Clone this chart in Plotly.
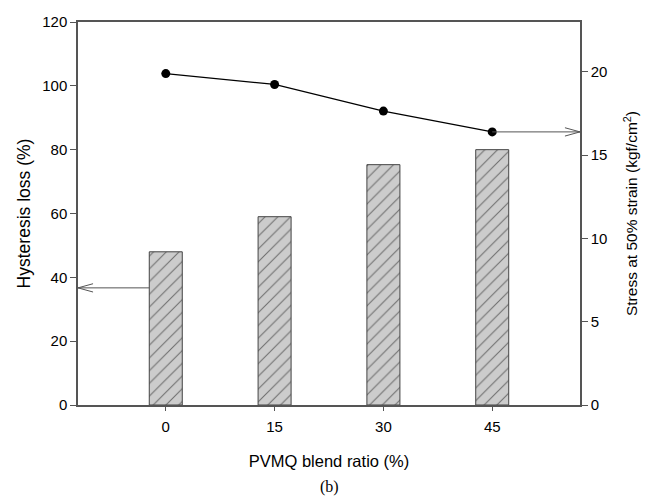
import plotly.graph_objects as go

blend_ratio = [0, 15, 30, 45]
hysteresis_loss = [48, 59, 75.3, 80]
stress_50 = [19.9, 19.25, 17.65, 16.4]
left_ticks = [0, 20, 40, 60, 80, 100, 120]
right_ticks = [0, 5, 10, 15, 20]

AX = "#555555"
FONT = "Liberation Sans, Arial, sans-serif"

fig = go.Figure()
fig.add_trace(go.Bar(
    x=blend_ratio, y=hysteresis_loss, width=4.55,
    marker=dict(color="#cccccc", line=dict(color="#444444", width=1),
                pattern=dict(shape="/", fgcolor="#111111", bgcolor="#cccccc", size=9, solidity=0.12)),
    showlegend=False, yaxis="y"))
fig.add_trace(go.Scatter(
    x=blend_ratio, y=stress_50, mode="lines+markers",
    line=dict(color="black", width=1.2),
    marker=dict(color="black", size=9),
    showlegend=False, yaxis="y2"))

xr = [-12.1, 57.1]
fig.update_layout(
    width=653, height=498,
    margin=dict(l=78, r=73, t=22, b=93),
    paper_bgcolor="white", plot_bgcolor="white",
    font=dict(family=FONT, size=15, color="black"),
    xaxis=dict(range=xr, tickvals=blend_ratio, ticktext=[str(v) for v in blend_ratio],
               showline=True, linecolor=AX, linewidth=1.5, mirror=True,
               ticks="outside", ticklen=4, tickcolor=AX, showgrid=False, zeroline=False,
               ticklabelstandoff=3,
               title=dict(text="PVMQ blend ratio (%)", font=dict(size=16.5), standoff=22)),
    yaxis=dict(range=[0, 120], tickvals=left_ticks, showline=True, linecolor=AX, linewidth=1.5,
               ticks="outside", ticklen=6, tickcolor=AX, showgrid=False, zeroline=False,
               title=dict(text="Hysteresis loss (%)", font=dict(size=17.5), standoff=7)),
    yaxis2=dict(range=[0, 23], tickvals=right_ticks, overlaying="y", side="right",
                showline=True, linecolor=AX, linewidth=1.5,
                ticks="outside", ticklen=6, tickcolor=AX, showgrid=False, zeroline=False,
                title=dict(text="Stress at 50% strain (kgf/cm<sup>2</sup>)", font=dict(size=15.5), standoff=20)),
)

# arrows (left: to hysteresis axis, right: to stress axis)
ly = 36.7
bar_left = blend_ratio[0] - 4.55 / 2
fig.add_shape(type="line", xref="x", yref="y", x0=xr[0], x1=bar_left, y0=ly, y1=ly,
              line=dict(color=AX, width=1))
fig.add_shape(type="path", xref="paper", yref="y",
              path=f"M 0.03 {ly+1.3} L 0 {ly} L 0.03 {ly-1.3}", line=dict(color=AX, width=1))
ry = stress_50[-1]
fig.add_shape(type="line", xref="x", yref="y2", x0=blend_ratio[-1], x1=xr[1], y0=ry, y1=ry,
              line=dict(color=AX, width=1))
fig.add_shape(type="path", xref="paper", yref="y2",
              path=f"M 0.97 {ry+0.25} L 1 {ry} L 0.97 {ry-0.25}", line=dict(color=AX, width=1))

fig.add_annotation(text="(b)", xref="paper", yref="paper", x=0.5, y=0, yshift=-82,
                   xanchor="center", yanchor="middle", showarrow=False,
                   font=dict(family="Liberation Serif, Times New Roman, serif", size=16))

fig.write_html("out.html", config={"displayModeBar": False},
               post_script="document.body.style.margin='0';document.body.style.overflow='hidden';")
